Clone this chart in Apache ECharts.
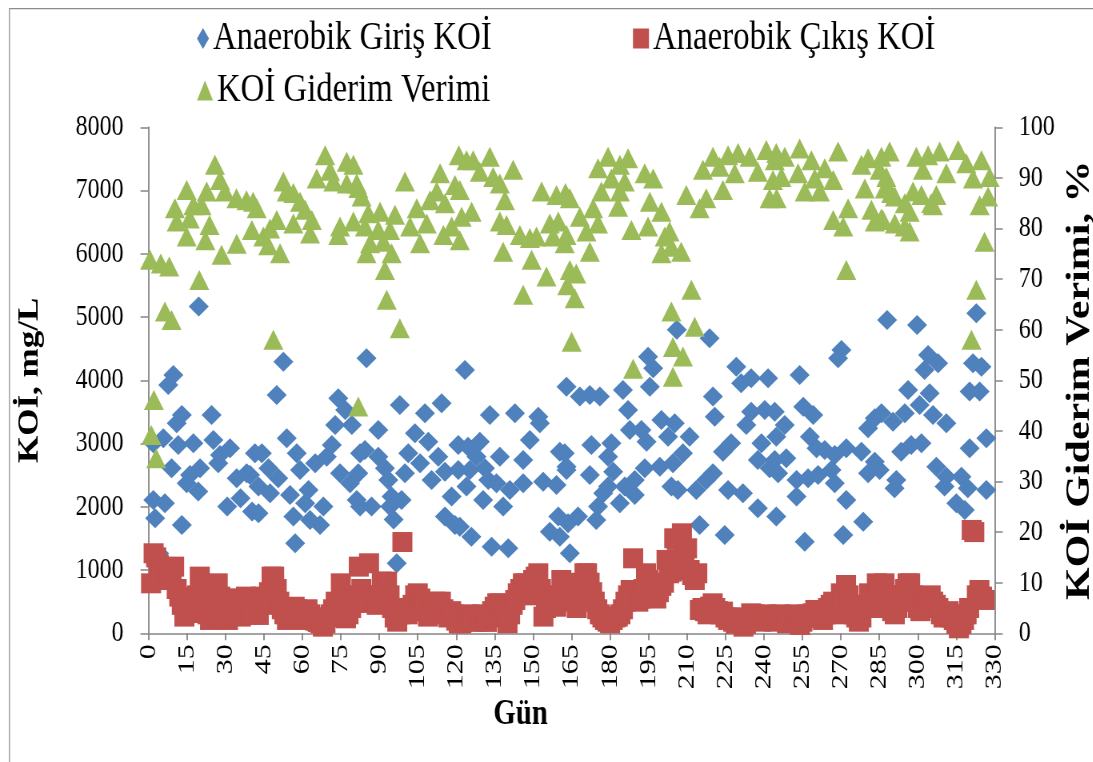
<!DOCTYPE html>
<html>
<head>
<meta charset="utf-8">
<script src="https://cdn.jsdelivr.net/npm/echarts@6/dist/echarts.min.js"></script>
<style>
  html, body { margin: 0; padding: 0; background: #ffffff; overflow: hidden; width: 1093px; height: 762px; }
  /* the chart is laid out on a wider canvas and narrowed horizontally, giving tall, narrow type */
  #chart { width: 1366px; height: 762px; transform: scaleX(0.8); transform-origin: 0 0; }
</style>
</head>
<body>
<div id="chart"></div>
<script>
// Series names
const seriesNames = ['Anaerobik Giriş KOİ', 'Anaerobik Çıkış KOİ', 'KOİ Giderim Verimi'];

// Axis settings (tick spacing and ranges)
const xTicks = { min: 0, max: 330, interval: 15 };
const yLeftTicks = { min: 0, max: 8000, interval: 1000 };
const yRightTicks = { min: 0, max: 100, interval: 10 };

// Influent COD, mg/L: [day, value]
const girisKOI = [
  [1.9,3004],[1.9,2108],[2.6,1818],[4.2,1260],[5.8,3083],[6.4,2055],[7.7,3926],[9.0,2609],[9.7,4084],
  [11,3320],[11.6,2978],[13,3452],[13,1713],[14.9,2372],[16.2,2503],[17.5,3004],[19.4,2240],[19.6,5165],
  [20.1,2609],[24.6,3452],[25.3,3057],[27.2,2688],[27.9,2819],[30.7,2003],[31.8,2925],[34.4,2451],
  [35.9,2134],[38.3,2530],[39.6,2503],[40.4,1924],[41.5,2846],[42.9,2319],[42.9,1897],[44.2,2846],
  [46.8,2609],[47.4,2213],[50,3768],[50.6,2451],[52.6,4295],[53.9,3083],[55.2,2187],[56.5,1845],
  [57.2,1423],[57.8,2846],[59.1,2582],[61.1,2055],[62.4,2266],[63,1792],[65,2688],[66.9,1713],
  [68.2,2003],[69.5,2793],[71.5,2978],[72.8,3294],[74,3715],[74.7,2530],[76.7,3531],[78.6,2372],
  [79.3,3294],[81.2,2108],[81.8,2530],[82.5,2846],[82.5,2003],[84.4,2899],[85,4348],[87,2003],
  [89.6,3215],[89.6,2793],[92.2,2609],[93.5,2424],[94.2,2003],[94.8,2161],[95.6,1800],[96.8,1107],
  [98,3610],[98.7,2108],[100,2530],[101.3,2846],[103.9,3162],[105.9,2688],[107.8,3478],[109.1,3030],
  [110.4,2424],[113,2793],[114.3,3636],[115.6,2556],[115.6,1845],[118.2,2161],[119.5,1713],[120.8,2978],
  [120.8,2582],[121.4,1686],[123.4,4163],[124,2319],[124.6,2951],[125.3,2582],[125.9,1528],[127.9,2793],
  [129.2,3030],[130.5,2108],[131.2,2609],[132.5,2424],[133.1,3452],[133.8,1370],[135.7,2372],[137,2793],
  [138.3,2003],[140.3,1344],[140.9,2266],[142.9,3478],[146.1,2740],[146.1,2372],[148.7,3057],[152,3425],
  [152.6,3320],[153.9,2398],[156.5,1607],[159.1,2345],[159.8,1845],[160.4,2872],[160.4,1528],[162.3,2846],
  [163,3900],[163,2635],[163,2582],[163.6,1739],[164.3,1265],[167.5,1845],[168.2,3742],[172.1,3768],
  [172.1,2503],[172.7,2978],[174.6,1792],[175.3,2003],[176,3742],[177.3,2213],[179.2,2793],[179.2,2319],
  [180.5,3004],[181.2,2556],[183.8,2055],[185,3847],[185.7,2319],[187,3531],[187.7,3215],[189.6,2424],
  [189.6,2187],[192.2,3215],[193.5,2609],[194.2,3030],[194.8,4374],[195.5,3900],[196.8,4189],[199.4,2635],
  [200,3373],[202.6,3109],[203.9,2319],[204.5,2688],[205.2,3320],[206,4800],[206.4,2266],[208.4,2846],
  [211,3109],[213.6,2266],[214.9,1713],[217.5,2424],[218.8,4664],[220.1,3742],[220.1,2530],[220.8,3425],
  [224,2872],[224.7,1555],[226,2266],[227.2,3004],[229.2,4216],[231.1,3952],[231.8,2213],[233.1,3294],
  [235,4032],[235,3504],[237.6,2740],[237.6,1976],[239,3004],[240.3,3531],[241.6,4032],[242.2,2609],
  [244.2,2740],[244.2,3504],[244.8,3109],[244.8,1845],[245.5,2530],[248.1,3294],[248.7,2767],[252.7,2424],
  [252.7,2161],[253.9,4084],[255.3,3583],[255.9,1449],[257.2,2451],[257.9,3109],[259.2,3452],[260.5,2925],
  [261.1,2503],[263.7,2899],[266.3,2582],[267.6,2819],[267.6,2372],[268.9,4348],[270.2,4479],[270.9,1555],
  [272.1,2925],[272.1,2108],[278,2872],[278.7,1765],[280.6,3241],[280.6,2530],[283.2,3399],[283.2,2714],
  [285.1,2582],[285.8,3478],[288,4954],[290.3,3346],[290.9,2292],[291.6,2424],[293.5,2872],[294.9,3478],
  [296.2,3847],[297.4,2978],[299.7,4875],[300.7,3610],[301.4,3004],[302.6,4163],[304,4401],[304.6,3794],
  [305.9,3452],[307.2,2635],[307.9,4269],[310.4,2319],[311.1,3320],[311.1,2477],[315,2055],[317,2477],
  [318.3,1950],[319.5,2292],[320.2,3821],[320.2,2925],[321.5,4269],[322.8,5059],[324.1,3821],[324.8,4216],
  [326.7,3083],[326.7,2266]
];

// Effluent COD, mg/L: [day, value]
const cikisKOI = [
  [1,790],[2,1265],[3,1200],[4,1080],[5,950],[6,843],[7,1050],[8,900],[9,843],[10,1054],
  [11,700],[12,580],[13,450],[14,264],[15,369],[16,500],[17,320],[18,420],[19,600],[20,896],
  [21,738],[22,480],[23,300],[24,211],[25,685],[26,450],[27,790],[28,580],[29,350],[30,260],
  [31,211],[32,400],[33,527],[34,553],[35,380],[36,264],[37,450],[38,580],[39,400],[40,300],
  [41,527],[42,350],[43,290],[44,580],[45,450],[46,500],[47,650],[48,896],[49,896],[50,700],
  [51,500],[52,380],[53,300],[54,211],[55,250],[56,350],[57,420],[58,380],[59,300],[60,250],
  [61,211],[62,380],[63,300],[64,250],[65,200],[66,180],[67,158],[68,105],[69,158],[70,250],
  [71,300],[72,380],[73,500],[74,420],[75,790],[76,300],[77,237],[78,300],[79,400],[80,480],
  [81,600],[82,1054],[83,700],[84,550],[85,480],[86,1107],[87,600],[88,500],[89,450],[90,600],
  [91,817],[92,700],[93,817],[94,600],[95,400],[96,250],[97,184],[98,300],[99,1443],[100,400],
  [101,300],[102,350],[103,450],[104,600],[105,632],[106,550],[107,480],[108,400],[109,264],[110,350],
  [111,480],[112,500],[113,420],[114,500],[115,380],[116,300],[117,250],[118,350],[119,300],[120,200],
  [121,158],[122,158],[123,200],[124,250],[125,300],[126,264],[127,211],[128,180],[129,250],[130,300],
  [131,211],[132,180],[133,264],[134,350],[135,420],[136,474],[137,474],[138,380],[139,250],[140,158],
  [141,300],[142,450],[143,527],[144,632],[145,700],[146,790],[147,790],[148,600],[149,650],[150,843],
  [151,896],[152,949],[153,700],[154,264],[155,400],[156,550],[157,600],[158,500],[159,420],[160,550],
  [161,843],[162,790],[163,790],[164,764],[165,650],[166,500],[167,400],[168,600],[169,800],[170,949],
  [171,949],[172,800],[173,650],[174,500],[175,380],[176,300],[177,250],[178,211],[179,184],[180,158],
  [181,211],[182,250],[183,264],[184,300],[185,380],[186,500],[187,600],[188,685],[189,1186],[190,600],
  [191,500],[192,550],[193,700],[194,949],[195,843],[196,700],[197,600],[198,550],[199,650],[200,750],
  [201,800],[202,1160],[203,949],[204,975],[205,1502],[206,1476],[207,1107],[208,1581],[209,1200],[210,1344],
  [211,1001],[212,922],[213,843],[214,949],[215,369],[216,400],[217,350],[218,300],[219,422],[220,474],
  [221,400],[222,350],[223,300],[224,343],[225,250],[226,211],[227,250],[228,184],[229,150],[230,200],
  [231,250],[232,105],[233,150],[234,200],[235,316],[236,300],[237,250],[238,211],[239,184],[240,250],
  [241,300],[242,264],[243,211],[244,184],[245,250],[246,300],[247,264],[248,211],[249,158],[250,184],
  [251,250],[252,300],[253,211],[254,132],[255,184],[256,264],[257,300],[258,250],[259,316],[260,369],
  [261,300],[262,250],[263,211],[264,300],[265,400],[266,450],[267,500],[268,400],[269,300],[270,632],
  [271,580],[272,764],[273,600],[274,450],[275,300],[276,250],[277,184],[278,250],[279,400],[280,450],
  [281,632],[282,500],[283,400],[284,790],[285,659],[286,685],[287,790],[288,600],[289,450],[290,350],
  [291,300],[292,400],[293,500],[294,600],[295,700],[296,790],[297,790],[298,600],[299,500],[300,400],
  [301,350],[302,450],[303,500],[304,550],[305,600],[306,500],[307,450],[308,400],[309,300],[310,250],
  [311,300],[312,350],[313,250],[314,211],[315,150],[316,79],[317,150],[318,211],[319,300],[320,400],
  [321,1634],[322,1600],[323,600],[324,685],[325,580],[326,527]
];

// COD removal efficiency, %: [day, value]
const verim = [
  [0.6,73.8],[1.1,39.2],[2.1,46.1],[3,34.6],[4.8,73.1],[6.4,63.6],[8.1,72.5],[9,61.9],[10.3,84],[11,81.4],
  [14.9,87.6],[14.9,78.4],[16.1,82],[17.5,84.6],[19.8,69.8],[20.7,84.6],[22.2,77.7],[22.7,87.3],[23.8,80.7],
  [25.9,92.6],[27.9,89.6],[28.5,74.8],[29.8,87.3],[34.3,86],[34.4,77],[38.2,85.6],[40.3,79.7],[40.8,85.3],
  [42.2,84],[44.8,78.4],[46.7,76.7],[47.4,80],[48.7,58],[50,81.7],[51.3,75.1],[52.6,89.3],[53.9,87.3],
  [56.5,87],[56.5,81],[59.1,85.3],[61.1,83.7],[63,79],[63.7,81.7],[65.6,89.9],[68.9,94.5],[70.8,91.4],
  [72.1,89.3],[74,78.7],[74.7,80.4],[77.3,93.2],[77.3,88.9],[79.9,92.6],[79.9,81.4],[81.2,88.9],[81.8,44.8],
  [81.8,88],[83.1,86.3],[84.4,80.4],[85,75.1],[85.7,83],[86.4,77.1],[89.6,79.7],[90.3,83.3],[91.6,77.4],
  [92.2,71.8],[92.9,65.9],[94.2,79.7],[94.8,75.1],[96.1,82.7],[98,60.3],[100,89.3],[102,80.4],[104.6,84],
  [105.9,77.1],[108.5,81],[109.8,85.6],[112.4,87.3],[113.7,90.9],[115,78.7],[115.6,85],[118.2,80.4],
  [119.5,88.6],[121,94.5],[121.4,87.6],[121.4,77.7],[122.1,82.3],[124,93.5],[126,83.3],[126.6,93.5],
  [129.2,91.2],[133.1,94.2],[134.4,90.2],[137,88.9],[137,81.4],[138.3,75.4],[139,85.6],[139.6,80.7],
  [142.2,91.6],[144.8,78.7],[146.1,66.9],[148.7,78.1],[149.4,73.8],[151.3,78.4],[153.3,87.3],[155.2,70.5],
  [156.5,81],[157.8,78.4],[159.1,86.6],[159.8,81.4],[162.3,77.1],[162.6,87],[163,78.7],[163.3,68.8],
  [164.3,86],[164.3,71.8],[165,57.6],[166.2,66.2],[166.8,71.1],[168.2,82.3],[170.8,79.4],[172.1,75.4],
  [173.4,84],[175.3,91.9],[175.3,81],[176.6,87.3],[179.2,94.2],[180.5,89.9],[183.1,84.3],[183.8,92.6],
  [183.8,87.3],[185.7,89.3],[187,93.9],[188.3,79.7],[189,52.3],[193.5,90.9],[194.8,80.4],[195.5,85.3],
  [196.8,89.9],[200,83.3],[200,75.1],[201.3,78.4],[203.2,79.4],[203.9,76.4],[203.9,63.6],[204.5,56.6],
  [204.5,50.7],[207.7,75.4],[208.4,54.7],[209.7,86.6],[211.7,67.9],[213,60.6],[214.9,84],[216.2,91.6],
  [217.5,86],[220.1,94.2],[222.7,92.2],[224,87.6],[226,94.5],[228.6,90.9],[229.9,94.9],[234.4,94.2],
  [237.6,91.2],[240.9,95.5],[242.2,86],[243.5,89.6],[244.2,93.5],[244.8,94.9],[244.9,86],[246.8,90.2],
  [248.1,94.2],[253.3,90.9],[253.9,95.8],[255.9,87.3],[258.5,93.5],[259.8,89.9],[261.8,87.3],[263.7,91.9],
  [267,89.6],[267,81.7],[268.9,95.2],[270.9,80.4],[272.1,71.8],[272.8,84],[278,92.6],[279.3,87.9],
  [280.6,93.9],[281.9,83.7],[283.2,81.4],[285.1,91.6],[285.8,94.2],[285.8,82],[286.4,81.7],[287.1,87.9],
  [287.7,90.2],[289,95.2],[289.6,87],[291,86.3],[291,81],[294.9,85],[294.9,80.4],[296.8,83.3],[296.8,79.4],
  [298.1,87.3],[299.4,94.2],[301.4,86.6],[302,91.6],[304,94.5],[305.2,85],[305.9,84.6],[307.2,86.6],
  [308.5,95.2],[311.1,90.9],[315.7,95.5],[318.9,92.9],[320.9,58],[321.5,89.9],[322.8,67.9],[324.1,84.6],
  [324.8,93.5],[326,77.4],[327.4,86.3],[328,90.2]
];

const colors = ['#4F81BD', '#C0504D', '#9BBB59'];
const fontFamily = 'Liberation Serif';
const axisGrey = '#868686';
// horizontal narrowing applied by the stylesheet; widths below are pre-stretched by 1/squeeze
const squeeze = 0.8;
const wide = v => v / squeeze;

const chart = echarts.init(document.getElementById('chart'), null, { renderer: 'canvas' });

const legendText = { fontFamily: fontFamily, fontSize: 41, color: '#000' };
const markSize = [wide(20), 20];

chart.setOption({
  animation: false,
  backgroundColor: '#ffffff',
  color: colors,
  textStyle: { fontFamily: fontFamily },
  graphic: [{
    type: 'rect',
    shape: { x: wide(9.5), y: 8.5, width: 1600, height: 900 },
    style: { fill: 'none', stroke: '#8c8c8c', lineWidth: 1.25 },
    silent: true
  }],
  legend: [
    { data: [{ name: seriesNames[0], icon: 'diamond' }], left: wide(193), top: 13, itemWidth: wide(12), itemHeight: 21, textStyle: legendText },
    { data: [{ name: seriesNames[1], icon: 'rect' }], left: wide(629), top: 13, itemWidth: wide(16), itemHeight: 20, textStyle: legendText },
    { data: [{ name: seriesNames[2], icon: 'triangle' }], left: wide(193), top: 65, itemWidth: wide(16), itemHeight: 20, textStyle: legendText }
  ],
  grid: {
    left: wide(148.5), right: wide(98), top: 127.3, bottom: 128.7,
    containLabel: false,
    outerBoundsMode: 'none'
  },
  xAxis: {
    type: 'value',
    min: xTicks.min, max: xTicks.max, interval: xTicks.interval,
    name: 'Gün',
    nameLocation: 'middle',
    nameGap: 63,
    // right padding nudges the title left of the axis centre
    nameTextStyle: { fontFamily: fontFamily, fontSize: 36, fontWeight: 'bold', color: '#000', padding: [0, wide(102), 0, 0] },
    axisLine: { show: true, onZero: false, lineStyle: { color: axisGrey, width: 1.5 } },
    axisTick: { show: true, inside: false, length: 7, lineStyle: { color: axisGrey, width: 1.8 } },
    axisLabel: { rotate: 90, margin: 11, fontFamily: fontFamily, fontSize: 30, color: '#000' },
    splitLine: { show: false }
  },
  yAxis: [
    {
      type: 'value',
      position: 'left',
      min: yLeftTicks.min, max: yLeftTicks.max, interval: yLeftTicks.interval,
      name: 'KOİ, mg/L',
      nameLocation: 'middle',
      nameRotate: 90,
      nameGap: 130,
      nameTextStyle: { fontFamily: fontFamily, fontSize: 35, fontWeight: 'bold', color: '#000' },
      axisLine: { show: true, lineStyle: { color: axisGrey, width: 1.8 } },
      axisTick: { show: true, inside: false, length: wide(8), lineStyle: { color: axisGrey, width: 1.5 } },
      axisLabel: { margin: wide(25), fontFamily: fontFamily, fontSize: 30, color: '#000', formatter: v => String(v) },
      splitLine: { show: false }
    },
    {
      type: 'value',
      position: 'right',
      min: yRightTicks.min, max: yRightTicks.max, interval: yRightTicks.interval,
      name: 'KOİ Giderim Verimi, %',
      nameLocation: 'middle',
      nameRotate: 90,
      nameGap: 82,
      nameTextStyle: { fontFamily: fontFamily, fontSize: 42, fontWeight: 'bold', color: '#000' },
      axisLine: { show: true, lineStyle: { color: axisGrey, width: 1.8 } },
      axisTick: { show: true, inside: false, length: wide(8), lineStyle: { color: axisGrey, width: 1.5 } },
      axisLabel: { margin: wide(24), fontFamily: fontFamily, fontSize: 30, color: '#000' },
      splitLine: { show: false }
    }
  ],
  series: [
    {
      name: seriesNames[0], type: 'scatter', yAxisIndex: 0,
      symbol: 'diamond', symbolSize: markSize,
      itemStyle: { color: colors[0], opacity: 1 },
      data: girisKOI
    },
    {
      name: seriesNames[1], type: 'scatter', yAxisIndex: 0,
      symbol: 'rect', symbolSize: markSize,
      itemStyle: { color: colors[1], opacity: 1 },
      data: cikisKOI
    },
    {
      name: seriesNames[2], type: 'scatter', yAxisIndex: 1,
      symbol: 'triangle', symbolSize: markSize,
      itemStyle: { color: colors[2], opacity: 1 },
      data: verim
    }
  ]
});
</script>
</body>
</html>
